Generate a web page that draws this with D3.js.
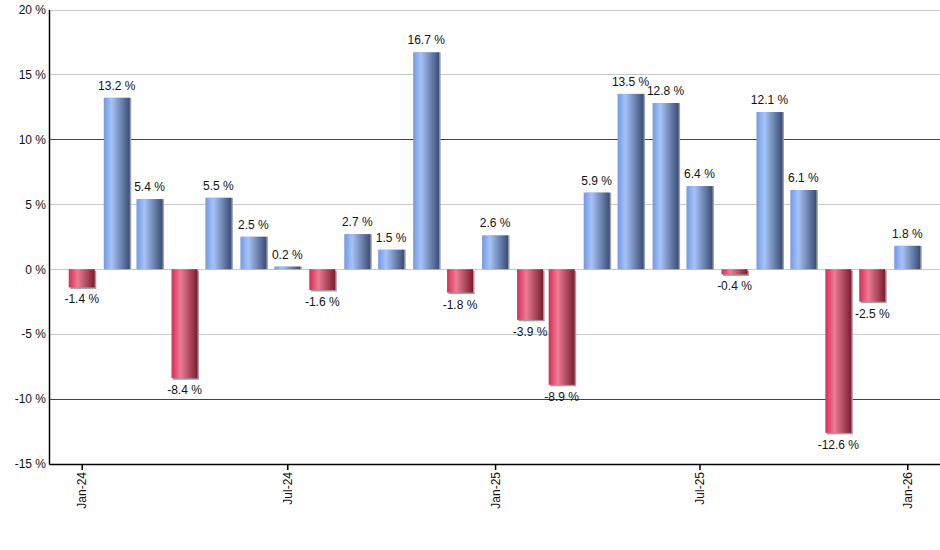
<!DOCTYPE html>
<html>
<head>
<meta charset="utf-8">
<script src="https://cdn.jsdelivr.net/npm/d3@7"></script>
<style>
  body { margin: 0; background: #fff; }
  svg { display: block; font-family: "Liberation Sans", Arial, sans-serif; }
</style>
</head>
<body>
<div id="chart"></div>
<script>
// monthly returns
const months = ["2024-01","2024-02","2024-03","2024-04","2024-05","2024-06","2024-07","2024-08","2024-09","2024-10","2024-11","2024-12",
  "2025-01","2025-02","2025-03","2025-04","2025-05","2025-06","2025-07","2025-08","2025-09","2025-10","2025-11","2025-12","2026-01"];
const values = [-1.4, 13.2, 5.4, -8.4, 5.5, 2.5, 0.2, -1.6, 2.7, 1.5, 16.7, -1.8,
  2.6, -3.9, -8.9, 5.9, 13.5, 12.8, 6.4, -0.4, 12.1, 6.1, -12.6, -2.5, 1.8];
const yTicks = [-15, -10, -5, 0, 5, 10, 15, 20];
const xTicks = ["2024-01", "2024-07", "2025-01", "2025-07", "2026-01"];

const parseMonth = d3.timeParse("%Y-%m");
const data = months.map((m, i) => ({ date: parseMonth(m), value: values[i] }));

const W = 940, H = 550;
const plot = { left: 49, right: 940, top: 9.5, bottom: 464 };
const barW = 26;

const svg = d3.select("#chart").append("svg")
  .attr("width", W)
  .attr("height", H);

const x = d3.scaleTime()
  .domain([new Date(2023, 11, 3), new Date(2026, 0, 30)])
  .range([plot.left, plot.right]);

const y = d3.scaleLinear()
  .domain([-15, 20])
  .range([plot.bottom, plot.top]);

// gradients
const defs = svg.append("defs");
const blue = defs.append("linearGradient").attr("id", "gBlue")
  .attr("x1", "0%").attr("x2", "100%").attr("y1", "0%").attr("y2", "0%");
blue.append("stop").attr("offset", "0%").attr("stop-color", "#7199e8");
blue.append("stop").attr("offset", "30%").attr("stop-color", "#a7c3f6");
blue.append("stop").attr("offset", "100%").attr("stop-color", "#3a4c74");
const red = defs.append("linearGradient").attr("id", "gRed")
  .attr("x1", "0%").attr("x2", "100%").attr("y1", "0%").attr("y2", "0%");
red.append("stop").attr("offset", "0%").attr("stop-color", "#dc2a55");
red.append("stop").attr("offset", "35%").attr("stop-color", "#e97d95");
red.append("stop").attr("offset", "100%").attr("stop-color", "#7a1c2e");

// grid lines
svg.append("g")
  .selectAll("line")
  .data(yTicks.filter(t => t !== -15))
  .enter()
  .append("line")
  .attr("x1", plot.left).attr("x2", plot.right)
  .attr("y1", d => Math.round(y(d)) + 0.5)
  .attr("y2", d => Math.round(y(d)) + 0.5)
  .attr("stroke", d => Math.abs(d) === 10 ? "#0a6a0a" : "#c8c8c8")
  .attr("stroke-width", 1);

// bar shadows
svg.append("g")
  .selectAll("rect")
  .data(data)
  .enter()
  .append("rect")
  .attr("x", d => x(d.date) - barW / 2 + 1.5)
  .attr("y", d => Math.min(y(d.value), y(0)) + (d.value < 0 ? 1.5 : 0))
  .attr("width", barW)
  .attr("height", d => Math.abs(y(d.value) - y(0)))
  .attr("fill", "#a0a0a0");

// bars
svg.append("g")
  .selectAll("rect")
  .data(data)
  .enter()
  .append("rect")
  .attr("x", d => x(d.date) - barW / 2)
  .attr("y", d => Math.min(y(d.value), y(0)))
  .attr("width", barW)
  .attr("height", d => Math.abs(y(d.value) - y(0)))
  .attr("fill", d => d.value >= 0 ? "url(#gBlue)" : "url(#gRed)");

// value labels
svg.append("g")
  .selectAll("text")
  .data(data)
  .enter()
  .append("text")
  .attr("x", d => x(d.date))
  .attr("y", d => d.value >= 0 ? y(d.value) - 8 : y(d.value) + 16)
  .attr("text-anchor", "middle")
  .style("font-size", "12px")
  .style("fill", "#111")
  .text(d => `${d.value.toFixed(1)} %`);

// Y axis
const yAxis = svg.append("g")
  .attr("transform", `translate(${plot.left},0)`)
  .call(d3.axisLeft(y).tickValues(yTicks).tickSize(0).tickPadding(3).tickFormat(d => `${d} %`));
yAxis.select(".domain").attr("stroke", "#000").attr("stroke-width", 1.5);
yAxis.selectAll("text")
  .style("font-size", "12px")
  .style("font-family", "'Liberation Sans', Arial, sans-serif")
  .style("fill", "#111");

// X axis
const xAxis = svg.append("g")
  .attr("transform", `translate(0,${plot.bottom})`)
  .call(d3.axisBottom(x)
    .tickValues(xTicks.map(parseMonth))
    .tickSize(6)
    .tickSizeOuter(0)
    .tickFormat(d3.timeFormat("%b-%y")));
xAxis.select(".domain").attr("stroke", "#000").attr("stroke-width", 1.5);
xAxis.selectAll(".tick line").attr("stroke", "#000").attr("stroke-width", 1.5);
xAxis.selectAll("text")
  .attr("transform", "rotate(-90)")
  .attr("text-anchor", "end")
  .attr("x", -8)
  .attr("y", 0)
  .attr("dy", "0.35em")
  .style("font-size", "12px")
  .style("font-family", "'Liberation Sans', Arial, sans-serif")
  .style("fill", "#111");
</script>
</body>
</html>
